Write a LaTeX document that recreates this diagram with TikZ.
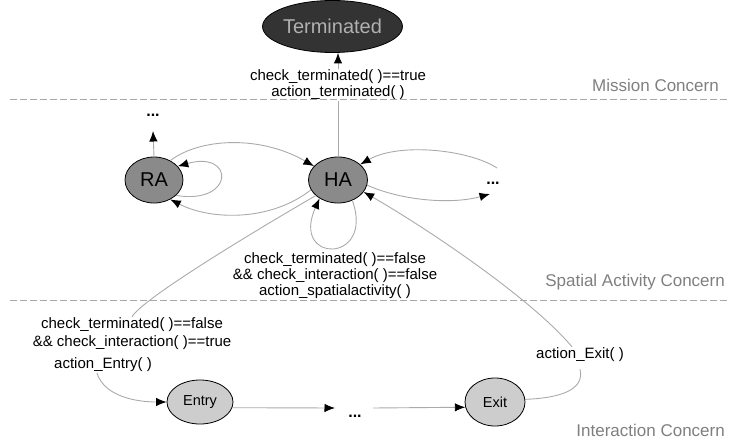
\documentclass[tikz,border=0pt]{standalone}
\usepackage{fontspec}
\setmainfont{Liberation Sans}
\usetikzlibrary{arrows.meta,shapes.geometric}
\definecolor{edgegray}{HTML}{AAAAAA}
\definecolor{darkfill}{HTML}{333333}
\definecolor{midfill}{HTML}{8A8A8A}
\definecolor{lightfill}{HTML}{CDCDCD}
\definecolor{concerngray}{HTML}{7F7F7F}
\definecolor{septgray}{HTML}{A8A8A8}
\begin{document}
\begin{tikzpicture}[x=1pt,y=-1pt,
  state/.style={ellipse, draw=black, line width=0.8pt, inner sep=0pt},
  bigstate/.style={state, font=\fontsize{20}{22}\selectfont},
  smallstate/.style={state, fill=lightfill, font=\fontsize{14.5}{16}\selectfont},
  lab/.style={align=center, inner sep=1pt, font=\fontsize{15}{16}\selectfont},
  concern/.style={anchor=east, text=concerngray, inner sep=0pt, font=\fontsize{17}{19}\selectfont},
  dots/.style={anchor=base, inner sep=0pt, font=\bfseries\fontsize{16}{18}\selectfont},
  edge/.style={draw=edgegray, line width=0.9pt},
  tip/.style={-{Latex[length=10.5pt,width=8.5pt,color=black]}},
  sepline/.style={draw=septgray, line width=1pt, dash pattern=on 7pt off 3pt}
]
\useasboundingbox (0,0) rectangle (729,444);

% states
\node[bigstate, fill=darkfill, text=gray!62, minimum width=129pt, minimum height=52pt] (T) at (332.5,26.5) {Terminated};
\node[bigstate, fill=midfill, minimum width=58pt, minimum height=46pt] (RA) at (154,180) {RA};
\node[bigstate, fill=midfill, minimum width=59pt, minimum height=46pt] (HA) at (338,180) {HA};
\node[smallstate, minimum width=66pt, minimum height=44pt] (Entry) at (200,402) {Entry};
\node[smallstate, minimum width=60pt, minimum height=48pt] (Exit) at (495,402) {Exit};

% dots
\node[dots] (dotsRA) at (153,117) {...};
\node[dots] (dotsR) at (493,184) {...};
\node[dots] (dotsM) at (355,417) {...};

% labels
\node[lab] (labS) at (335,276) {check\_terminated( )==false\\\&\& check\_interaction( )==false\\action\_spatialactivity( )};
\node[lab, font=\fontsize{15}{18}\selectfont] (condE) at (132,334) {check\_terminated( )==false\\\&\& check\_interaction( )==true};
\node[lab] (actE) at (103,365) {action\_Entry( )};
\node[lab] (actX) at (580,355) {action\_Exit( )};

% edges
\draw[edge,tip] (HA.north) -- node[lab, fill=white, pos=0.69] (labT) {check\_terminated( )==true\\action\_terminated( )} (T.south -| HA.north);
\draw[edge,tip] (RA.north) -- ([yshift=-14pt]dotsRA.base);
\draw[edge,tip] (RA.50) .. controls (200,138) and (260,135) .. (HA.150);
\draw[edge,tip] (HA.200) .. controls (270,222) and (210,220) .. (RA.-50);
\draw[edge,tip] (RA.-35) .. controls (235,205) and (235,150) .. (RA.30);
\draw[edge,tip] (HA.-55) .. controls (375,264) and (290,264) .. (HA.-135);
\draw[edge,tip] (HA.-10) .. controls (400,200) and (450,205) .. ([shift={(-3pt,-10pt)}]dotsR.base);
\draw[edge,tip] ([shift={(4pt,16pt)}]dotsR.base) .. controls (470,150) and (400,142) .. (HA.35);
\draw[edge] (HA.215) .. controls (253,232) and (142,299) .. (condE.north);
\draw[edge,tip] ([xshift=-6pt]actE.south) .. controls (105,398) and (140,402) .. (Entry.west);
\draw[edge,tip] (Entry.-10) -- ([shift={(-20pt,9pt)}]dotsM.base);
\draw[edge,tip] ([shift={(18pt,9pt)}]dotsM.base) -- (Exit.190);
\draw[edge] (Exit.5) .. controls (560,398) and (585,390) .. ([yshift=-6pt]actX.south);
\draw[edge,tip] ([xshift=-8pt]actX.north) .. controls (532,299) and (428,229) .. (HA.-25);

% separators
\draw[sepline] (10,100) -- (729,100);
\draw[sepline] (10,300) -- (729,300);

% concern labels
\node[concern] (mc) at (719,85) {Mission Concern};
\node[concern] (sc) at (725,282) {Spatial Activity Concern};
\node[concern] (ic) at (725,430) {Interaction Concern};
\end{tikzpicture}
\end{document}
